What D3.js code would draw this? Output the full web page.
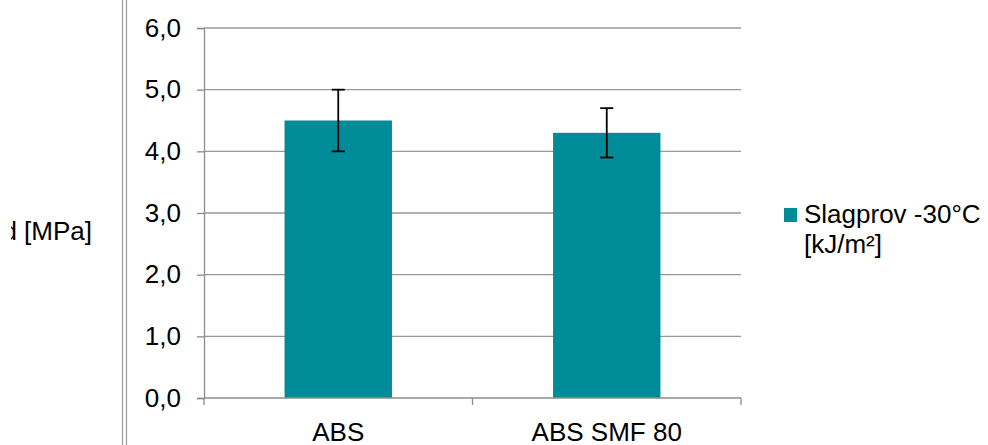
<!DOCTYPE html>
<html>
<head>
<meta charset="utf-8">
<script src="https://cdn.jsdelivr.net/npm/d3@7"></script>
<style>
  html, body { margin: 0; padding: 0; background: #fff; }
  svg { display: block; font-family: Arial, "Liberation Sans", sans-serif; }
</style>
</head>
<body>
<svg id="chart" width="988" height="445"></svg>
<script>
// Impact test results at -30 °C
const categories = ["ABS", "ABS SMF 80"];
const means = [4.5, 4.3];
const errLow = [4.0, 3.9];
const errHigh = [5.0, 4.7];
const yTicks = [0, 1, 2, 3, 4, 5, 6];
const seriesName = ["Slagprov -30°C", "[kJ/m²]"];
const yAxisTitle = "Draghållfasthet fd [MPa]";

const svg = d3.select("#chart");
const barColor = "#008b99";
const gridColor = "#999999";
const axisColor = "#8c8c8c";
const fontSize = 26;

const plot = { left: 204, right: 741, top: 28, bottom: 398 };

const x = d3.scaleBand().domain(categories).range([plot.left, plot.right]).paddingInner(0).paddingOuter(0);
const y = d3.scaleLinear().domain([0, 6]).range([plot.bottom, plot.top]);
const barW = x.bandwidth() / 2.5;

// Double border line on the left side
[122.5, 126.5].forEach(px => {
  svg.append("line").attr("x1", px).attr("x2", px).attr("y1", 0).attr("y2", 445)
    .attr("stroke", "#9a9a9a").attr("stroke-width", 1.2);
});

// Axis title (cut off by its clip region)
svg.append("clipPath").attr("id", "titleClip")
  .append("rect").attr("x", 11).attr("y", 0).attr("width", 110).attr("height", 445);
svg.append("text")
  .attr("clip-path", "url(#titleClip)")
  .attr("x", 92).attr("y", 240)
  .attr("text-anchor", "end")
  .attr("font-size", fontSize)
  .attr("fill", "#000")
  .text(yAxisTitle);

// Horizontal gridlines
svg.append("g").selectAll("line").data(yTicks.filter(d => d > 0)).join("line")
  .attr("x1", plot.left).attr("x2", plot.right)
  .attr("y1", d => y(d)).attr("y2", d => y(d))
  .attr("stroke", gridColor).attr("stroke-width", 1.3);

// Y axis
const yAxis = d3.axisLeft(y).tickValues(yTicks).tickSize(7).tickPadding(16)
  .tickFormat(d => d3.format(".1f")(d).replace(".", ","));
const gy = svg.append("g").attr("transform", `translate(${plot.left},0)`).call(yAxis);
gy.select(".domain").attr("stroke", axisColor).attr("stroke-width", 1.3);
gy.selectAll(".tick line").attr("stroke", axisColor).attr("stroke-width", 1.3);
gy.selectAll(".tick text").attr("font-size", fontSize).attr("font-family", "Arial, 'Liberation Sans', sans-serif").attr("fill", "#000");

// Bars
svg.append("g").selectAll("rect").data(categories).join("rect")
  .attr("x", d => x(d) + (x.bandwidth() - barW) / 2)
  .attr("width", barW)
  .attr("y", (d, i) => y(means[i]))
  .attr("height", (d, i) => y(0) - y(means[i]))
  .attr("fill", barColor);

// X axis
const gx = svg.append("g").attr("transform", `translate(0,${plot.bottom})`);
gx.append("line").attr("x1", plot.left).attr("x2", plot.right).attr("y1", 0).attr("y2", 0)
  .attr("stroke", axisColor).attr("stroke-width", 1.3);
const boundaries = categories.map(c => x(c)).concat([x.range()[1]]);
gx.selectAll("line.tk").data(boundaries).join("line").attr("class", "tk")
  .attr("x1", d => d).attr("x2", d => d).attr("y1", 0).attr("y2", 7)
  .attr("stroke", axisColor).attr("stroke-width", 1.3);
gx.selectAll("text").data(categories).join("text")
  .attr("x", d => x(d) + x.bandwidth() / 2)
  .attr("y", 43)
  .attr("text-anchor", "middle")
  .attr("font-size", fontSize)
  .attr("fill", "#000")
  .text(d => d);

// Error bars
const capW = 13;
const eb = svg.append("g").attr("stroke", "#000").attr("stroke-width", 1.8);
categories.forEach((c, i) => {
  const cx = x(c) + x.bandwidth() / 2;
  eb.append("line").attr("x1", cx).attr("x2", cx).attr("y1", y(errLow[i])).attr("y2", y(errHigh[i]));
  eb.append("line").attr("x1", cx - capW / 2).attr("x2", cx + capW / 2).attr("y1", y(errLow[i])).attr("y2", y(errLow[i]));
  eb.append("line").attr("x1", cx - capW / 2).attr("x2", cx + capW / 2).attr("y1", y(errHigh[i])).attr("y2", y(errHigh[i]));
});

// Legend
const lg = svg.append("g").attr("transform", "translate(784,208)");
lg.append("rect").attr("width", 13).attr("height", 14).attr("fill", barColor);
lg.selectAll("text").data(seriesName).join("text")
  .attr("x", 20).attr("y", (d, i) => 15 + i * 29.5)
  .attr("font-size", fontSize)
  .attr("fill", "#000")
  .text(d => d);
</script>
</body>
</html>
